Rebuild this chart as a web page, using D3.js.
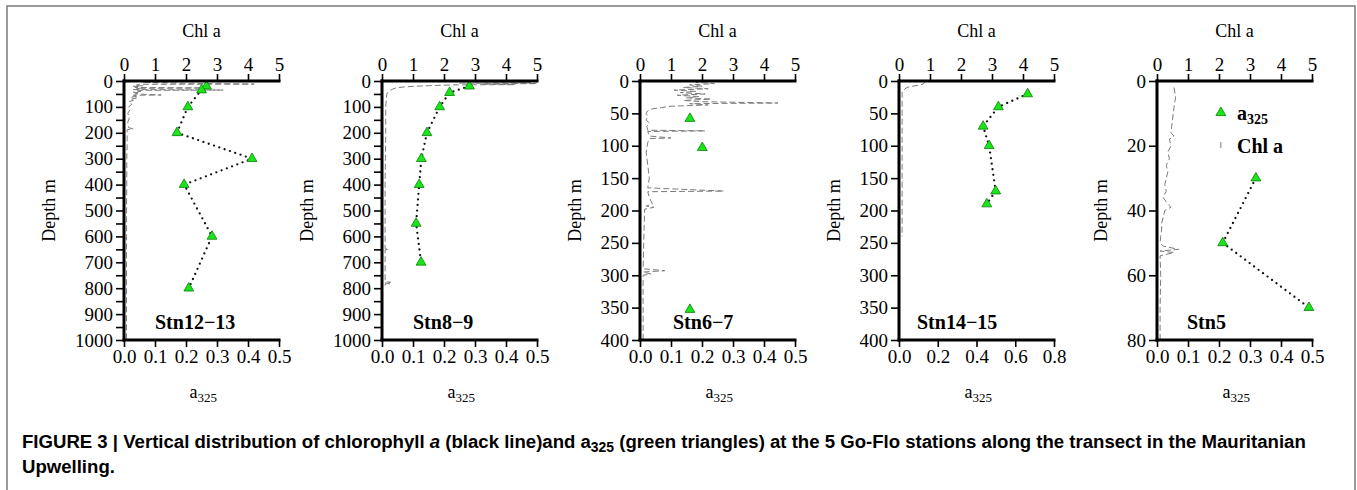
<!DOCTYPE html>
<html>
<head>
<meta charset="utf-8">
<script src="https://cdn.jsdelivr.net/npm/d3@7"></script>
<style>
body{margin:0;background:#fff}
svg text{font-family:"Liberation Serif","Times New Roman",serif;fill:#000}
</style>
</head>
<body>
<div id="Canvas"></div>
<script>
// station names, scale limits and ticks
let stations = ["Stn12\u221213", "Stn8\u22129", "Stn6\u22127", "Stn14\u221215", "Stn5"]
let depthMax = [1000, 1000, 400, 400, 80]
let depthTicks = [
    [0,100,200,300,400,500,600,700,800,900,1000],
    [0,100,200,300,400,500,600,700,800,900,1000],
    [0,50,100,150,200,250,300,350,400],
    [0,50,100,150,200,250,300,350,400],
    [0,20,40,60,80]
]
let depthMinor = [
    [50,150,250,350,450,550,650,750,850,950],
    [50,150,250,350,450,550,650,750,850,950],
    [], [], []
]
let chlTicks = [0,1,2,3,4,5]
let a325Max = [0.5, 0.5, 0.5, 0.8, 0.5]
let a325Ticks = [
    [0,0.1,0.2,0.3,0.4,0.5],
    [0,0.1,0.2,0.3,0.4,0.5],
    [0,0.1,0.2,0.3,0.4,0.5],
    [0,0.2,0.4,0.6,0.8],
    [0,0.1,0.2,0.3,0.4,0.5]
]

// a325 samples : [depth, a325]
let a325_12_13 = [[20,0.266],[35,0.25],[100,0.206],[200,0.171],[300,0.413],[400,0.194],[600,0.284],[800,0.209]]
let a325_8_9 = [[20,0.282],[45,0.218],[100,0.186],[200,0.145],[300,0.127],[400,0.12],[550,0.11],[700,0.126]]
let a325_6_7 = [[58,0.161],[103,0.201],[353,0.161]]
let a325_14_15 = [[20,0.664],[40,0.513],[70,0.434],[100,0.465],[170,0.499],[190,0.453]]
let a325_5 = [[30,0.319],[50,0.212],[70,0.49]]

// Chl a profiles : [depth, chl]
let chl_12_13 = [[0,1.0],[2,1.8],[4,1.2],[6,0.6],[8,1.5],[12,4.2],[13,0.5],[16,0.4],[18,0.6],[20,0.3],[22,0.5],[25,0.35],
    [27,2.8],[28,0.4],[30,0.5],[33,0.3],[35,3.2],[36,0.4],[40,0.55],[43,0.3],[46,0.5],[50,0.35],[54,1.2],[55,0.3],
    [58,0.45],[62,0.25],[66,0.4],[70,0.2],[75,0.3],[80,0.15],[90,0.25],[100,0.15],[110,0.2],[125,0.12],[140,0.18],
    [160,0.12],[180,0.15],[185,0.3],[188,0.1],[250,0.1],[300,0.09],[400,0.09],[500,0.08],[600,0.08],[700,0.08],
    [800,0.08],[900,0.08],[1000,0.08]]
let chl_8_9 = [[4,3.0],[6,4.8],[8,2.5],[10,5.0],[12,3.2],[14,4.3],[15,2.3],[18,1.5],[20,1.1],[23,0.7],[27,0.45],[31,0.35],
    [35,0.28],[40,0.22],[47,0.17],[54,0.15],[100,0.12],[200,0.12],[300,0.11],[400,0.1],[500,0.1],[600,0.1],[648,0.1],[650,0.22],
    [652,0.1],[700,0.1],[775,0.1],[777,0.28],[780,0.1],[783,0.25],[786,0.1],[790,0.1]]
let chl_6_7 = [[0,2.2],[2,1.8],[4,2.4],[6,1.6],[8,2.0],[10,1.4],[12,2.2],[14,1.1],[16,1.8],[18,1.3],[20,2.1],[22,1.2],
    [24,1.9],[26,1.5],[28,2.3],[30,1.4],[32,2.0],[34,4.45],[35,1.6],[37,2.2],[39,1.0],[41,0.7],[43,0.4],[46,0.25],
    [50,0.2],[55,0.25],[60,0.2],[65,0.3],[70,0.22],[76,0.25],[77,2.1],[78,0.25],[85,0.3],[88,1.0],[89,0.3],[95,0.25],
    [110,0.2],[130,0.25],[150,0.3],[165,0.25],[170,2.7],[171,0.25],[180,0.3],[190,0.4],[193,0.2],[195,0.45],[198,0.15],
    [250,0.12],[290,0.1],[293,0.8],[295,0.1],[298,0.35],[300,0.1],[350,0.1],[400,0.1]]
let chl_14_15 = [[0,0.85],[4,0.8],[6,0.7],[8,0.45],[10,0.25],[14,0.15],[16,0.1],[50,0.1],[100,0.1],[150,0.1],[200,0.1],[240,0.1]]
let chl_5 = [[2,0.55],[5,0.6],[8,0.55],[12,0.5],[16,0.45],[17,0.55],[18,0.4],[20,0.45],[22,0.35],[24,0.4],[26,0.3],[28,0.35],
    [30,0.3],[32,0.25],[34,0.3],[36,0.2],[38,0.35],[39,0.45],[40,0.25],[42,0.2],[44,0.15],[46,0.15],[48,0.12],[50,0.1],
    [51,0.2],[52,0.7],[52.5,0.1],[53,0.55],[54,0.1],[60,0.12],[70,0.1],[80,0.1]]

let a325Data = [a325_12_13, a325_8_9, a325_6_7, a325_14_15, a325_5]
let chlData = [chl_12_13, chl_8_9, chl_6_7, chl_14_15, chl_5]
let drawDotLine = [true, true, false, true, true]

// layout
let W = 1357, H = 490
let panelLeft = [124, 382, 640, 899, 1157]
let labelOffset = [31, 31, 33, 18, 30]
let pw = 155, plotTop = 81, plotBottom = 340
let serif = '"Liberation Serif", "Times New Roman", serif'

let svg = d3.select("#Canvas")
    .append("svg")
    .attr("width", W)
    .attr("height", H)

//外框
svg.append("rect")
    .attr("x", 7).attr("y", 6)
    .attr("width", 1348).attr("height", 500)
    .attr("fill", "none")
    .attr("stroke", "#7a7a7a")
    .attr("stroke-width", 1.5)

stations.forEach((name, i) => {
    let x0 = panelLeft[i]
    let g = svg.append("g").attr("transform", `translate(${x0},0)`)
    let yScale = d3.scaleLinear().domain([0, depthMax[i]]).range([plotTop, plotBottom])
    let chlScale = d3.scaleLinear().domain([0, 5]).range([0, pw])
    let aScale = d3.scaleLinear().domain([0, a325Max[i]]).range([0, pw])

    // chl a profile (dashed grey)
    g.append("path")
        .datum(chlData[i])
        .attr("d", d3.line().x(d => chlScale(d[1])).y(d => yScale(d[0])))
        .attr("fill", "none")
        .attr("stroke", "#7c7c7c")
        .attr("stroke-width", 1)
        .attr("stroke-dasharray", "6,3")

    // a325 dotted line
    if (drawDotLine[i]) {
        g.append("path")
            .datum(a325Data[i])
            .attr("d", d3.line().x(d => aScale(d[1])).y(d => yScale(d[0])))
            .attr("fill", "none")
            .attr("stroke", "#111")
            .attr("stroke-width", 2.3)
            .attr("stroke-linecap", "round")
            .attr("stroke-dasharray", "0,5.6")
    }

    // triangles
    g.selectAll("path.tri")
        .data(a325Data[i])
        .enter()
        .append("path")
        .attr("class", "tri")
        .attr("d", d3.symbol(d3.symbolTriangle, 42))
        .attr("transform", d => `translate(${aScale(d[1])},${yScale(d[0])})`)
        .attr("fill", "#19e619")
        .attr("stroke", "#0d7d0d")
        .attr("stroke-width", 0.8)

    // axes
    let topAxis = d3.axisTop(chlScale).tickValues(chlTicks).tickSize(7).tickSizeOuter(0).tickPadding(3)
        .tickFormat(d3.format("d"))
    let botAxis = d3.axisBottom(aScale).tickValues(a325Ticks[i]).tickSize(7).tickSizeOuter(0).tickPadding(3)
        .tickFormat(d3.format(".1f"))
    let leftAxis = d3.axisLeft(yScale).tickValues(depthTicks[i]).tickSize(8).tickSizeOuter(0).tickPadding(3)
        .tickFormat(d3.format("d"))
    let leftMinor = d3.axisLeft(yScale).tickValues(depthMinor[i]).tickSize(8).tickSizeOuter(0).tickFormat("")

    let gt = g.append("g").attr("transform", `translate(0,${plotTop})`).call(topAxis)
    let gb = g.append("g").attr("transform", `translate(0,${plotBottom})`).call(botAxis)
    let gl = g.append("g").call(leftAxis)
    let gm = g.append("g").call(leftMinor)
    ;[gt, gb, gl, gm].forEach(a => {
        a.attr("font-family", serif).attr("font-size", 19)
        a.select(".domain").remove()
        a.selectAll(".tick line").attr("stroke", "#000").attr("stroke-width", 1.6)
        a.selectAll(".tick text").attr("font-family", serif).attr("font-size", 19)
    })

    // thick frame lines (left, top, bottom)
    let frame = [
        [[0, plotTop], [pw, plotTop]],
        [[0, plotBottom], [pw, plotBottom]],
        [[0, plotTop], [0, plotBottom]]
    ]
    g.selectAll("line.frame")
        .data(frame)
        .enter()
        .append("line")
        .attr("class", "frame")
        .attr("x1", d => d[0][0]).attr("y1", d => d[0][1])
        .attr("x2", d => d[1][0]).attr("y2", d => d[1][1])
        .attr("stroke", "#000")
        .attr("stroke-width", 3)
        .attr("stroke-linecap", "square")

    // titles
    g.append("text")
        .attr("x", pw / 2).attr("y", 37)
        .attr("text-anchor", "middle")
        .style("font-size", "18px")
        .text("Chl a")
    let at = g.append("text")
        .attr("x", pw / 2 - 12).attr("y", 398)
        .style("font-size", "18px")
        .text("a")
    at.append("tspan").attr("dy", 4).style("font-size", "13px").text("325")

    // depth label, placed beside the widest tick label
    let maxW = d3.max(gl.selectAll(".tick text").nodes(), n => n.getComputedTextLength())
    g.append("text")
        .attr("transform", `translate(${-(maxW + 31)},${(plotTop + plotBottom) / 2}) rotate(-90)`)
        .attr("text-anchor", "middle")
        .style("font-size", "18px")
        .text("Depth m")

    g.append("text")
        .attr("x", labelOffset[i]).attr("y", 329)
        .style("font-size", "20px")
        .style("font-weight", "bold")
        .text(name)

    // legend on last panel
    if (i == 4) {
        let lg = svg.append("g").attr("transform", `translate(${x0},0)`)
        lg.append("path")
            .attr("d", d3.symbol(d3.symbolTriangle, 42))
            .attr("transform", `translate(${aScale(0.206)},${yScale(9.8)})`)
            .attr("fill", "#19e619")
            .attr("stroke", "#0d7d0d")
            .attr("stroke-width", 0.8)
        lg.append("line")
            .attr("x1", aScale(0.206)).attr("x2", aScale(0.206))
            .attr("y1", 142).attr("y2", 148)
            .attr("stroke", "#7c7c7c").attr("stroke-width", 1)
        let l1 = lg.append("text")
            .attr("x", 80).attr("y", 120)
            .style("font-size", "20px").style("font-weight", "bold")
            .text("a")
        l1.append("tspan").attr("dy", 4).style("font-size", "14px").text("325")
        lg.append("text")
            .attr("x", 80).attr("y", 153)
            .style("font-size", "20px").style("font-weight", "bold")
            .text("Chl a")
    }
})

// caption
let cap = svg.append("g").style("font-weight", "bold")
let line1 = cap.append("text").attr("x", 22).attr("y", 448)
    .style("font-family", '"Liberation Sans", Arial, sans-serif').style("font-size", "16px")
line1.append("tspan").text("FIGURE 3 | Vertical distribution of chlorophyll ")
line1.append("tspan").style("font-style", "italic").text("a")
line1.append("tspan").text(" (black line)and a")
line1.append("tspan").attr("dy", 4).style("font-size", "12px").text("325")
line1.append("tspan").attr("dy", -4).text(" (green triangles) at the 5 Go-Flo stations along the transect in the Mauritanian")
let line2 = cap.append("text").attr("x", 22).attr("y", 473)
    .style("font-family", '"Liberation Sans", Arial, sans-serif').style("font-size", "16px")
    .text("Upwelling.")
// fit first line to the measured width
let wNow = line1.node().getComputedTextLength()
let fs = 16 * 1285 / wNow
line1.style("font-size", fs + "px")
line1.selectAll("tspan").filter(function(){ return this.textContent == "325" }).style("font-size", (fs * 0.75) + "px")
line2.style("font-size", fs + "px")
</script>
</body>
</html>
